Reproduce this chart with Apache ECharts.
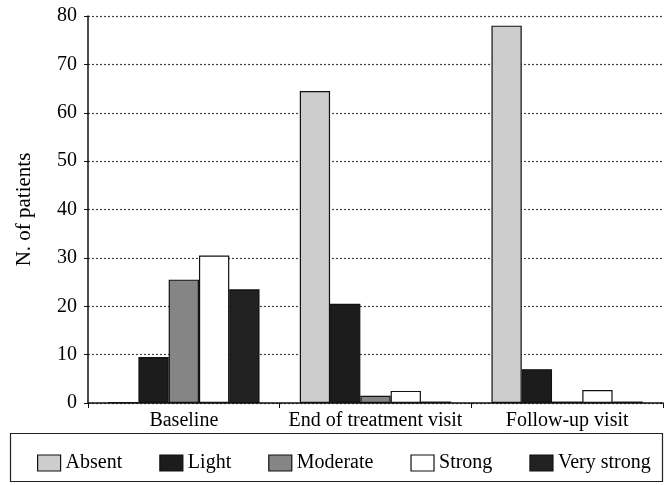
<!DOCTYPE html>
<html>
<head>
<meta charset="utf-8">
<script src="https://cdn.jsdelivr.net/npm/echarts@6/dist/echarts.min.js"></script>
<style>
  html, body { margin: 0; padding: 0; background: #fff; }
  #chart { width: 666px; height: 485px; }
</style>
</head>
<body>
<div id="chart"></div>
<script>
const categories = ["Baseline", "End of treatment visit", "Follow-up visit"];
const seriesNames = ["Absent", "Light", "Moderate", "Strong", "Very strong"];
const absent = [0.2, 64.5, 78];
const light = [9.5, 20.5, 7];
const moderate = [25.5, 1.5, 0.3];
const strong = [30.5, 2.5, 2.7];
const veryStrong = [23.5, 0.3, 0.3];
const yTicks = [0, 10, 20, 30, 40, 50, 60, 70, 80];

const fills = ["#cdcdcd", "#1c1c1c", "#858585", "#ffffff", "#222222"];
const values = [absent, light, moderate, strong, veryStrong];

const font = "'Liberation Serif', 'DejaVu Serif', serif";

const chart = echarts.init(document.getElementById("chart"));

chart.setOption({
  backgroundColor: "#fff",
  animation: false,
  textStyle: { fontFamily: font, color: "#000" },
  grid: { left: 88, right: 3, top: 16, bottom: 82 },
  legend: {
    data: seriesNames,
    icon: "rect",
    top: 448,
    left: 32,
    itemWidth: 23,
    itemHeight: 16,
    itemGap: 37,
    textStyle: { fontFamily: font, fontSize: 20, color: "#000" },
    itemStyle: { borderColor: "#111", borderWidth: 1.2 },
  },
  graphic: [
    {
      type: "rect",
      shape: { x: 10.5, y: 433.5, width: 652, height: 48 },
      style: { fill: "none", stroke: "#222", lineWidth: 1.2 },
      z: -1,
    },
  ],
  xAxis: {
    type: "category",
    data: categories,
    axisLine: { lineStyle: { color: "#111", width: 1.5 } },
    axisTick: { show: true, length: 5, lineStyle: { color: "#111" } },
    axisLabel: {
      interval: 0,
      fontFamily: font,
      fontSize: 20,
      color: "#000",
      margin: 8,
    },
  },
  yAxis: {
    type: "value",
    min: yTicks[0],
    max: yTicks[yTicks.length - 1],
    interval: 10,
    name: "N. of patients",
    nameLocation: "middle",
    nameGap: 53,
    nameTextStyle: { fontFamily: font, fontSize: 21, color: "#000" },
    axisLine: { show: true, lineStyle: { color: "#111", width: 1.5 } },
    axisTick: { show: true, length: 4, lineStyle: { color: "#111" } },
    axisLabel: { fontFamily: font, fontSize: 20, color: "#000", margin: 11 },
    splitLine: {
      show: true,
      lineStyle: { color: "#444", type: [2, 2], width: 1.2 },
    },
  },
  series: seriesNames.map((name, i) => ({
    name,
    type: "bar",
    data: values[i],
    barGap: "0%",
    barCategoryGap: "21%",
    itemStyle: { color: fills[i], borderColor: "#111", borderWidth: 1.2 },
  })),
});
</script>
</body>
</html>
